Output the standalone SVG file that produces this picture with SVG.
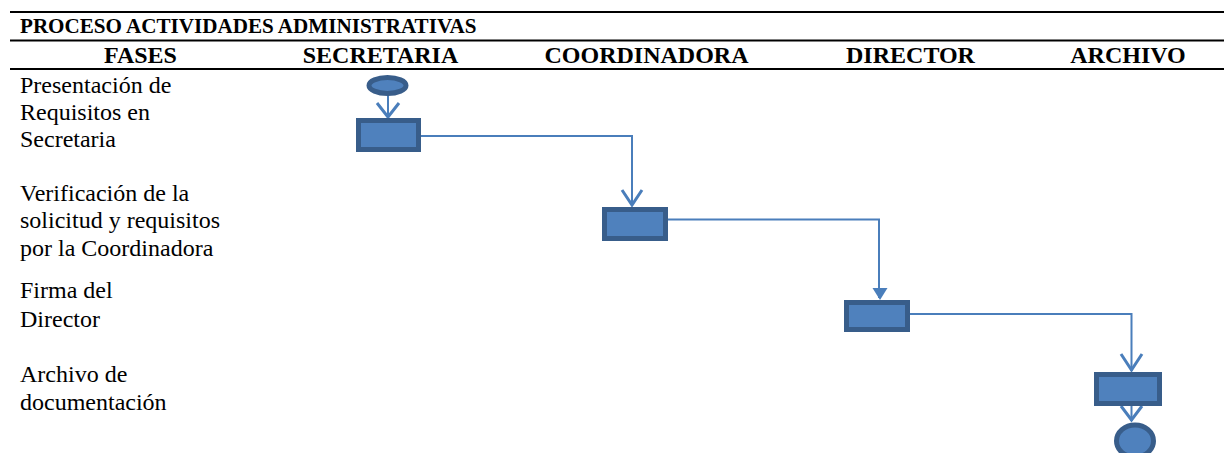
<svg xmlns="http://www.w3.org/2000/svg" width="1224" height="453" viewBox="0 0 1224 453">
<defs>
<style>
.rule{stroke:#000;stroke-width:2;fill:none}
.h{font-family:'Liberation Serif','Times New Roman',serif;font-weight:bold;font-size:24px;fill:#000}
.ttl{font-family:'Liberation Serif','Times New Roman',serif;font-weight:bold;font-size:21.1px;fill:#000}
.t{font-family:'Liberation Serif','Times New Roman',serif;font-size:24px;fill:#000}
.box{fill:#4F81BD;stroke:#385D8A;stroke-width:5}
.con{stroke:#4A7EBB;stroke-width:2;fill:none}
.head{stroke:#4A7EBB;stroke-width:3;fill:none;stroke-linejoin:miter}
</style>
</defs>
<rect width="1224" height="453" fill="#fff"/>
<g id="table">
<line class="rule" x1="10" y1="12" x2="1224" y2="12"/>
<line class="rule" x1="10" y1="40.5" x2="1224" y2="40.5"/>
<line class="rule" x1="10" y1="69" x2="1224" y2="69"/>
<text class="ttl" x="20" y="33">PROCESO ACTIVIDADES ADMINISTRATIVAS</text>
<text class="h" x="140.5" y="63" text-anchor="middle">FASES</text>
<text class="h" x="380.5" y="63" text-anchor="middle">SECRETARIA</text>
<text class="h" x="646.5" y="63" text-anchor="middle">COORDINADORA</text>
<text class="h" x="910.5" y="63" text-anchor="middle">DIRECTOR</text>
<text class="h" x="1128" y="63" text-anchor="middle">ARCHIVO</text>
</g>
<g id="phases">
<text class="t" x="20" y="93">Presentación de</text>
<text class="t" x="20" y="120">Requisitos en</text>
<text class="t" x="20" y="147">Secretaria</text>
<text class="t" x="20" y="201">Verificación de la</text>
<text class="t" x="20" y="228">solicitud y requisitos</text>
<text class="t" x="20" y="256">por la Coordinadora</text>
<text class="t" x="20" y="298">Firma del</text>
<text class="t" x="20" y="327">Director</text>
<text class="t" x="20" y="382">Archivo de</text>
<text class="t" x="20" y="410">documentación</text>
</g>
<g id="connectors">
<line class="con" x1="388" y1="95" x2="388" y2="118"/>
<polyline class="head" points="377,103 388,117 399,103"/>
<polyline class="con" points="420,136 632,136 632,206"/>
<polyline class="head" points="622,190 632,205 642,190"/>
<polyline class="con" points="667,219.5 879,219.5 879,298"/>
<polygon points="872.5,288 887.5,288 880,300" fill="#4A7EBB"/>
<polyline class="con" points="909,314 1131.5,314 1131.5,371"/>
<polyline class="head" points="1121,354 1131.5,370 1142,354"/>
<line class="con" x1="1131.5" y1="406" x2="1131.5" y2="421"/>
<polyline class="head" points="1121,406 1131.5,420 1142,406"/>
</g>
<g id="start"><ellipse class="box" cx="387.5" cy="85.5" rx="18.5" ry="8" stroke-width="4"/></g>
<g id="n1"><rect class="box" x="358.5" y="120.5" width="60" height="29"/></g>
<g id="n2"><rect class="box" x="604.5" y="209.5" width="61" height="29"/></g>
<g id="n3"><rect class="box" x="846.5" y="302.5" width="61" height="27"/></g>
<g id="n4"><rect class="box" x="1096.5" y="374.5" width="63" height="29"/></g>
<g id="end"><ellipse class="box" cx="1135" cy="441" rx="18.5" ry="16" stroke-width="4"/></g>
</svg>
